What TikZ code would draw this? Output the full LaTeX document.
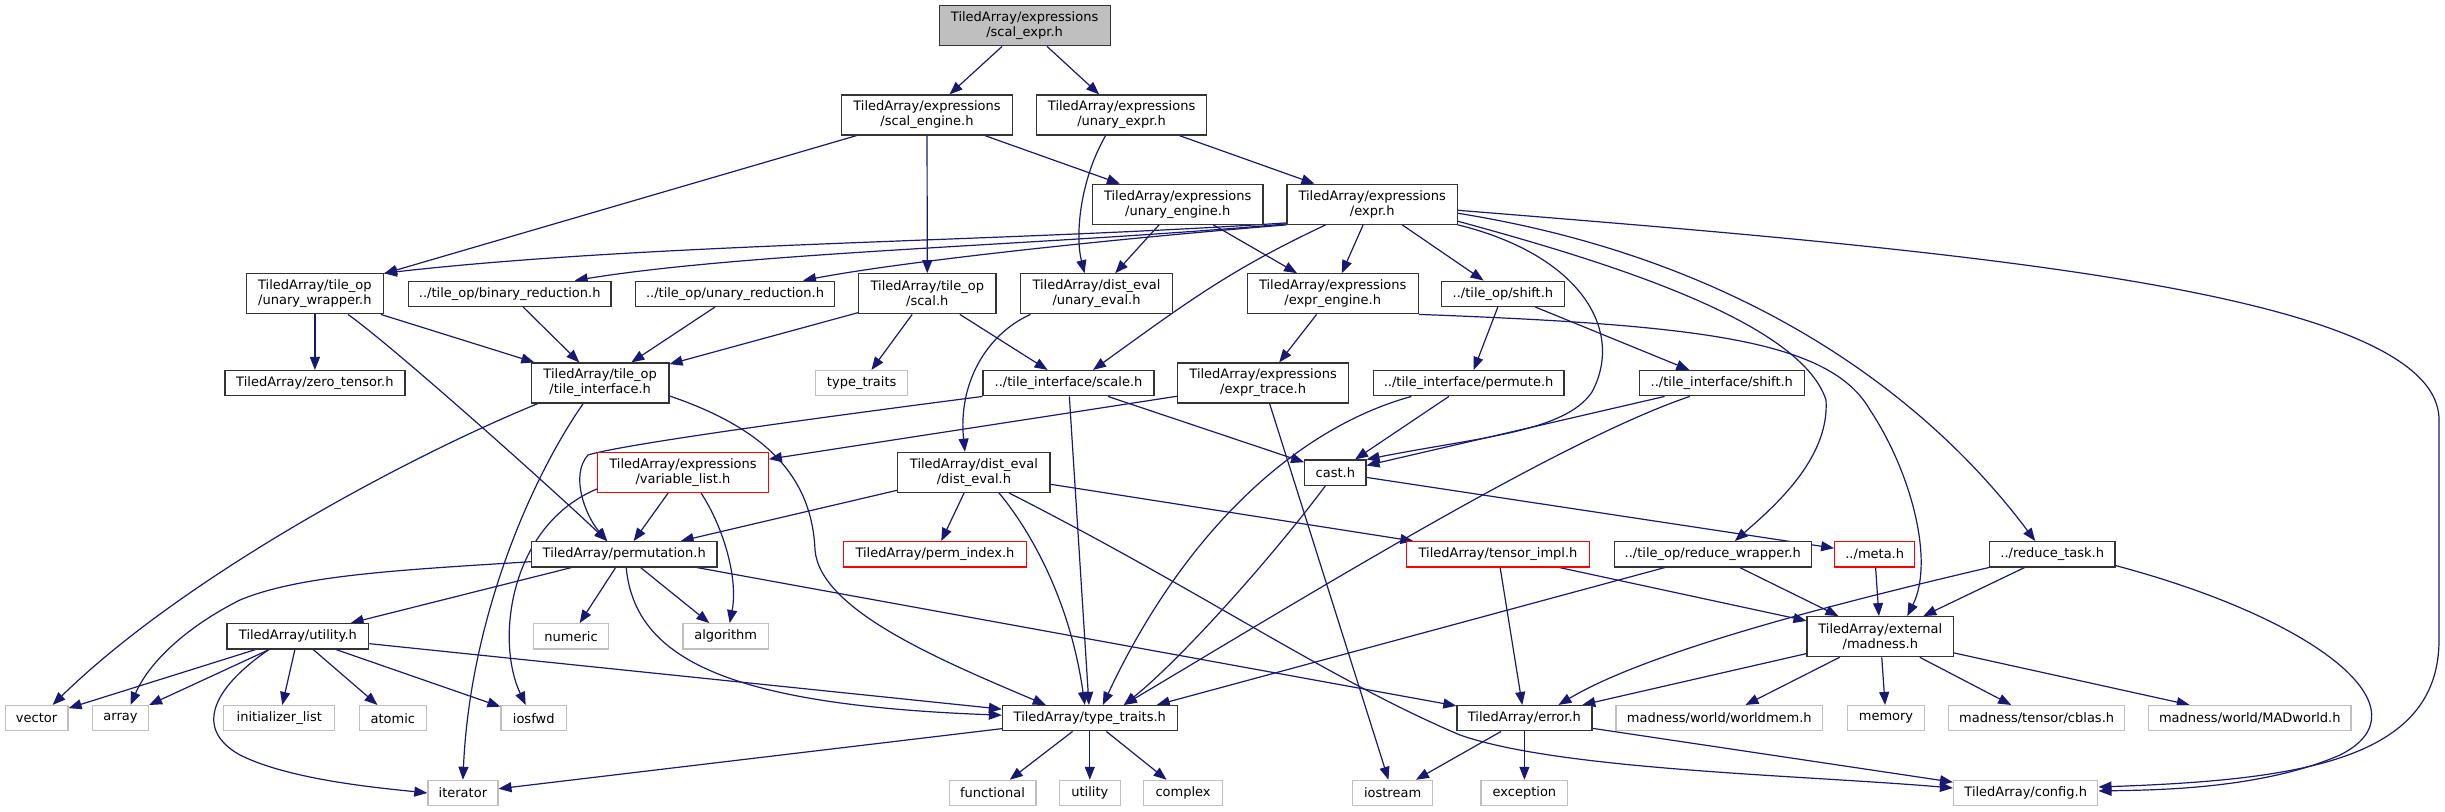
\documentclass[tikz,border=0pt]{standalone}
\usepackage{fontspec}
\setmainfont{DejaVu Sans}
\usetikzlibrary{arrows.meta,calc}
\definecolor{edgeblue}{HTML}{191970}
\definecolor{ngray}{HTML}{BFBFBF}
\pgfdeclarelayer{bg}
\pgfsetlayers{bg,main}
\begin{document}
\begin{tikzpicture}[x=0.5pt,y=-0.5pt,
 nd/.style={draw=black!80,line width=0.6pt,fill=white,inner sep=0pt,align=center,font=\fontsize{6.5}{7.5}\selectfont},
 gnd/.style={nd,draw=ngray},
 rnd/.style={nd,draw=red},
 rootnd/.style={nd,fill=ngray},
 wd/.style={minimum width=#1*0.5pt},
 one/.style={minimum height=12.65pt},
 two/.style={minimum height=20pt},
 ar/.style={draw=edgeblue,line width=0.6pt,-{Triangle[length=6.5pt,width=5pt]}}]
\useasboundingbox (0,0) rectangle (2445,812);
% row 1-3
\node[rootnd,two,wd=171] (root) at (1024.6,25.8) {TiledArray/expressions\\/scal\_expr.h};
\node[nd,two,wd=170.5] (se) at (927,115) {TiledArray/expressions\\/scal\_engine.h};
\node[nd,two,wd=170.5] (ue) at (1121.6,115) {TiledArray/expressions\\/unary\_expr.h};
\node[nd,two,wd=170.5] (ueng) at (1177.7,204.3) {TiledArray/expressions\\/unary\_engine.h};
\node[nd,two,wd=170.5] (ex) at (1372.2,204.3) {TiledArray/expressions\\/expr.h};
% row 4
\node[nd,two,wd=137] (uw) at (314.9,293.8) {TiledArray/tile\_op\\/unary\_wrapper.h};
\node[nd,one,wd=202.4] (br) at (509.7,293.8) {../tile\_op/binary\_reduction.h};
\node[nd,one,wd=199] (ur) at (735,293.8) {../tile\_op/unary\_reduction.h};
\node[nd,two,wd=137.5] (sc) at (927.3,293.8) {TiledArray/tile\_op\\/scal.h};
\node[nd,two,wd=151.7] (uev) at (1096.5,293.8) {TiledArray/dist\_eval\\/unary\_eval.h};
\node[nd,two,wd=171] (ee) at (1332.7,293.8) {TiledArray/expressions\\/expr\_engine.h};
\node[nd,one,wd=122.4] (tos) at (1502.9,293.8) {../tile\_op/shift.h};
% row 5
\node[nd,one,wd=180] (zt) at (314.9,383.2) {TiledArray/zero\_tensor.h};
\node[nd,two,wd=137.5] (ti) at (600.2,383) {TiledArray/tile\_op\\/tile\_interface.h};
\node[gnd,one,wd=92] (ttr) at (861.7,383.2) {type\_traits};
\node[nd,one,wd=171] (tis) at (1068.5,383.2) {../tile\_interface/scale.h};
\node[nd,two,wd=171] (et) at (1263.1,383) {TiledArray/expressions\\/expr\_trace.h};
\node[nd,one,wd=190.9] (tip) at (1468.6,383.2) {../tile\_interface/permute.h};
\node[nd,one,wd=165.3] (tish) at (1721.8,383.2) {../tile\_interface/shift.h};
% row 6
\node[rnd,two,wd=170.5] (vl) at (683,472.3) {TiledArray/expressions\\/variable\_list.h};
\node[nd,two,wd=152.2] (de) at (973.9,472.3) {TiledArray/dist\_eval\\/dist\_eval.h};
\node[nd,one,wd=61.2] (ca) at (1335.3,472.7) {cast.h};
% row 7
\node[nd,one,wd=185.7] (perm) at (624.2,554.3) {TiledArray/permutation.h};
\node[rnd,one,wd=183] (pidx) at (935,554.3) {TiledArray/perm\_index.h};
\node[rnd,one,wd=182.5] (timpl) at (1498,554.3) {TiledArray/tensor\_impl.h};
\node[nd,one,wd=197] (rw) at (1712.8,554.3) {../tile\_op/reduce\_wrapper.h};
\node[rnd,one,wd=80] (meta) at (1874.7,554.3) {../meta.h};
\node[nd,one,wd=125.5] (rtk) at (2052.2,554.3) {../reduce\_task.h};
% row 8
\node[nd,one,wd=141.7] (ut) at (297.9,636.3) {TiledArray/utility.h};
\node[gnd,one,wd=75.3] (num) at (571.1,636.3) {numeric};
\node[gnd,one,wd=85.3] (alg) at (725.7,636.3) {algorithm};
\node[nd,two,wd=146.5] (mad) at (1880.3,636.7) {TiledArray/external\\/madness.h};
% row 9
\node[gnd,one,wd=62.8] (vec) at (36.6,718.2) {vector};
\node[gnd,one,wd=56] (arr) at (120.5,718.2) {array};
\node[gnd,one,wd=111] (il) at (279.3,718.2) {initializer\_list};
\node[gnd,one,wd=67] (atm) at (392.8,718.2) {atomic};
\node[gnd,one,wd=65.4] (iof) at (533.7,718.2) {iosfwd};
\node[nd,one,wd=174.7] (tt) at (1089.8,718.2) {TiledArray/type\_traits.h};
\node[nd,one,wd=135] (err) at (1524.4,718.2) {TiledArray/error.h};
\node[gnd,one,wd=206.7] (wm) at (1719.3,718.2) {madness/world/worldmem.h};
\node[gnd,one,wd=77.4] (mem) at (1886,718.2) {memory};
\node[gnd,one,wd=175.8] (cb) at (2036.6,718.2) {madness/tensor/cblas.h};
\node[gnd,one,wd=202.4] (mw) at (2249.8,718.2) {madness/world/MADworld.h};
% row 10
\node[gnd,one,wd=70] (itr) at (462.9,793) {iterator};
\node[gnd,one,wd=86.8] (fn) at (992.5,793) {functional};
\node[gnd,one,wd=60.7] (utl) at (1089.8,793) {utility};
\node[gnd,one,wd=79] (cx) at (1183.1,793) {complex};
\node[gnd,one,wd=79.5] (ios) at (1392.6,793) {iostream};
\node[gnd,one,wd=86.8] (exc) at (1524.4,793) {exception};
\node[gnd,one,wd=144.3] (cfg) at (2025.7,793) {TiledArray/config.h};

\begin{pgfonlayer}{bg}
\draw[ar] (root) -- (se);
\draw[ar] (root) -- (ue);
\draw[ar] (se) -- (uw);
\draw[ar] (se) -- (sc);
\draw[ar] (se) -- (ueng);
\draw[ar] ($(ue.south)+(-16,0)$) .. controls (1080,180) and (1075,235) .. ($(uev.north)+(-12,0)$);
\draw[ar] (ue) -- (ex);
\draw[ar] (ueng) -- (uev);
\draw[ar] (ueng) -- (ee);
% from expr.h
\draw[ar] ($(ex.south west)+(0,-2)$) .. controls (1000,242) and (650,243) .. (uw.north east);
\draw[ar] ($(ex.south west)+(0,-1)$) .. controls (1050,245) and (750,252) .. ($(br.north)+(65,0)$);
\draw[ar] (ex.south west) .. controls (1100,240) and (900,262) .. ($(ur.north)+(68,0)$);
\draw[ar] ($(ex.south)+(-46.6,0)$) .. controls (1230,270) and (1190,300) .. ($(tis.north)+(24.5,0)$);
\draw[ar] (ex) -- (ee);
\draw[ar] (ex) -- (tos);
\draw[ar] (ex.south east) .. controls (1580,255) and (1625,330) .. (1592,392) .. controls (1565,432) and (1480,437) .. (ca.north east);
\draw[ar] ($(ex.east)+(0,17)$) .. controls (1600,260) and (1800,320) .. (1826,400) .. controls (1830,460) and (1770,510) .. ($(rw.north)+(22,0)$);
\draw[ar] ($(ex.east)+(0,9)$) .. controls (1750,260) and (1930,400) .. ($(rtk.north)+(-17,0)$);
\draw[ar] ($(ex.east)+(0,6)$) .. controls (1950,250) and (2439,290) .. (2439,420) -- (2439,640) .. controls (2439,760) and (2300,780) .. ($(cfg.east)+(0,-6)$);
% row 4 sources
\draw[ar] (uw) -- (zt);
\draw[ar] (uw) -- (ti);
\draw[ar] ($(uw.south)+(33,0)$) .. controls (390,344) and (547,484) .. ($(perm.north)+(-17,0)$);
\draw[ar] (br) -- (ti);
\draw[ar] (ur) -- (ti);
\draw[ar] (sc) -- (ttr);
\draw[ar] (sc) -- (tis);
\draw[ar] (sc) -- (ti);
\draw[ar] ($(uev.south)+(-66,0)$) .. controls (985,335) and (958,385) .. ($(de.north)+(-9,0)$);
\draw[ar] (ee) -- (et);
\draw[ar] (ee.south east) .. controls (1700,325) and (1830,340) .. (1870,410) .. controls (1910,470) and (1935,560) .. ($(mad.north)+(27,0)$);
\draw[ar] (tos) -- (tip);
\draw[ar] (tos) -- (tish);
% row 5 sources
\draw[ar] ($(ti.south west)+(7,0)$) .. controls (400,460) and (180,580) .. ($(vec.north)+(16,0)$);
\draw[ar] ($(ti.south)+(-17,0)$) .. controls (530,480) and (470,620) .. (itr.north);
\draw[ar] ($(ti.east)+(0,13)$) .. controls (770,430) and (812,480) .. (815,550) .. controls (820,610) and (940,660) .. ($(tt.north)+(-44,0)$);
\draw[ar] (tis) -- (tt);
\draw[ar] (tis) -- (ca);
\draw[ar] (tis.south west) .. controls (800,420) and (620,445) .. (588,455) .. controls (570,475) and (585,515) .. ($(perm.north)+(-17,0)$);
\draw[ar] (et) -- (vl);
\draw[ar] (et) -- (ios);
\draw[ar] (tip) -- (ca);
\draw[ar] ($(tip.south west)+(38.8,0)$) .. controls (1290,430) and (1180,540) .. ($(tt.north)+(13,0)$);
\draw[ar] (tish) -- (ca);
\draw[ar] ($(tish.south)+(-32,0)$) .. controls (1560,440) and (1300,600) .. ($(tt.north)+(34,0)$);
% row 6 sources
\draw[ar] (vl) -- (perm);
\draw[ar] ($(vl.south)+(18,0)$) .. controls (725,530) and (738,580) .. ($(alg.north)+(4,0)$);
\draw[ar] ($(vl.south west)+(0,-4)$) .. controls (510,525) and (495,640) .. ($(iof.north)+(-8,0)$);
\draw[ar] (de) -- (perm);
\draw[ar] (de) -- (pidx);
\draw[ar] ($(de.south)+(25,0)$) .. controls (1030,530) and (1070,600) .. ($(tt.north)+(-5,0)$);
\draw[ar] (de) -- (timpl);
\draw[ar] ($(de.south)+(35,0)$) .. controls (1200,590) and (1330,680) .. (1460,735) .. controls (1560,770) and (1800,775) .. ($(cfg.west)+(0,-5)$);
\draw[ar] ($(ca.south)+(-10,0)$) .. controls (1270,560) and (1180,660) .. ($(tt.north)+(34,0)$);
\draw[ar] (ca) -- (meta);
% row 7 sources
\draw[ar] (perm) -- (ut);
\draw[ar] ($(perm.west)+(0,7.4)$) .. controls (400,570) and (300,575) .. (240,600) .. controls (190,625) and (150,660) .. ($(arr.north)+(10,0)$);
\draw[ar] (perm) -- (num);
\draw[ar] (perm) -- (alg);
\draw[ar] ($(perm.south)+(2,0)$) .. controls (635,660) and (730,705) .. ($(tt.west)+(0,-3)$);
\draw[ar] (perm) -- (err);
\draw[ar] (timpl) -- (err);
\draw[ar] (timpl) -- (mad);
\draw[ar] ($(rw.south)+(-48,0)$) -- ($(tt.north east)+(-21,0)$);
\draw[ar] (rw) -- (mad);
\draw[ar] (meta) -- (mad);
\draw[ar] (rtk) -- (mad);
\draw[ar] (rtk.south west) .. controls (1850,600) and (1650,650) .. ($(err.north)+(34,0)$);
\draw[ar] ($(rtk.south east)+(0,-2)$) .. controls (2320,620) and (2430,710) .. (2340,755) .. controls (2260,790) and (2150,790) .. ($(cfg.east)+(0,-2)$);
% row 8 sources
\draw[ar] (ut) -- (vec);
\draw[ar] (ut) -- (arr);
\draw[ar] ($(ut.south)+(-29,0)$) .. controls (210,690) and (195,730) .. (240,755) .. controls (290,780) and (380,788) .. (itr.west);
\draw[ar] (ut) -- (il);
\draw[ar] (ut) -- (atm);
\draw[ar] (ut) -- (iof);
\draw[ar] (ut) -- (tt);
\draw[ar] (mad) -- (wm);
\draw[ar] (mad) -- (mem);
\draw[ar] (mad) -- (cb);
\draw[ar] (mad) -- (mw);
\draw[ar] (mad) -- (err);
% row 9 sources
\draw[ar] (tt) -- (itr);
\draw[ar] (tt) -- (fn);
\draw[ar] (tt) -- (utl);
\draw[ar] (tt) -- (cx);
\draw[ar] (err) -- (ios);
\draw[ar] (err) -- (exc);
\draw[ar] (err) -- (cfg);
\end{pgfonlayer}
\end{tikzpicture}
\end{document}
